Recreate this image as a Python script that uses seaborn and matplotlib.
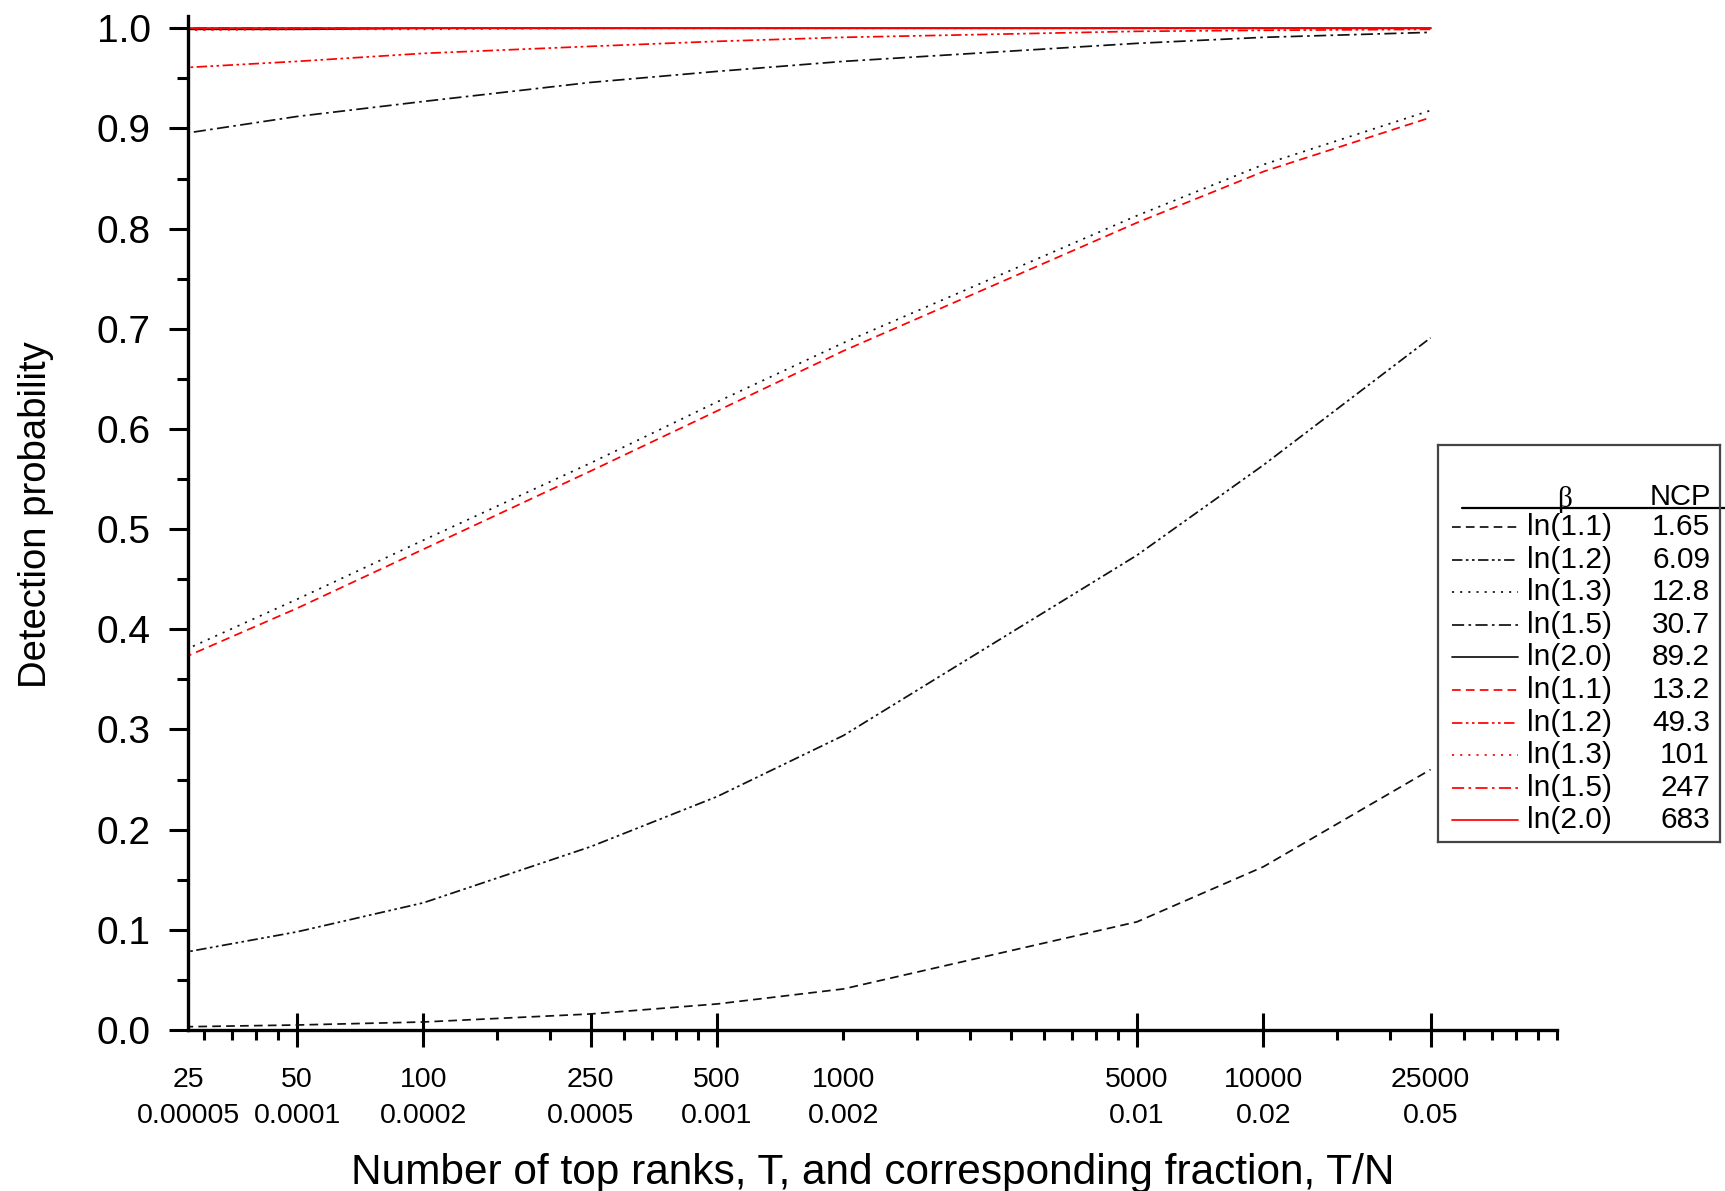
import matplotlib
matplotlib.use("Agg")
import matplotlib.pyplot as plt
import seaborn as sns
from matplotlib.ticker import FixedLocator, FixedFormatter, NullFormatter

# ---------------- data ----------------
T = [25, 50, 100, 250, 500, 1000, 5000, 10000, 25000]
T_tick_labels = ["25", "50", "100", "250", "500", "1000", "5000", "10000", "25000"]
frac_tick_labels = ["0.00005", "0.0001", "0.0002", "0.0005", "0.001", "0.002",
                    "0.01", "0.02", "0.05"]
minor_T = [30, 35, 40, 45, 150, 200, 300, 350, 400, 450,
           1000, 1500, 2000, 2500, 3000, 3500, 4000, 4500,
           15000, 20000, 30000, 35000, 40000, 45000, 50000]

beta_labels = ["ln(1.1)", "ln(1.2)", "ln(1.3)", "ln(1.5)", "ln(2.0)"]
ncp_black = ["1.65", "6.09", "12.8", "30.7", "89.2"]
ncp_red = ["13.2", "49.3", "101", "247", "683"]

black_11 = [0.003, 0.005, 0.008, 0.016, 0.026, 0.041, 0.108, 0.163, 0.260]
black_12 = [0.075, 0.098, 0.127, 0.183, 0.233, 0.294, 0.474, 0.564, 0.691]
black_13 = [0.373, 0.430, 0.489, 0.566, 0.627, 0.686, 0.813, 0.864, 0.918]
black_15 = [0.893, 0.912, 0.927, 0.946, 0.957, 0.967, 0.985, 0.991, 0.996]
black_20 = [0.999, 0.999, 1.000, 1.000, 1.000, 1.000, 1.000, 1.000, 1.000]

red_11 = [0.366, 0.421, 0.480, 0.558, 0.618, 0.678, 0.806, 0.857, 0.911]
red_12 = [0.960, 0.967, 0.975, 0.982, 0.987, 0.991, 0.997, 0.998, 0.999]
red_13 = [0.998, 0.999, 0.999, 1.000, 1.000, 1.000, 1.000, 1.000, 1.000]
red_15 = [1.000, 1.000, 1.000, 1.000, 1.000, 1.000, 1.000, 1.000, 1.000]
red_20 = [1.000, 1.000, 1.000, 1.000, 1.000, 1.000, 1.000, 1.000, 1.000]

# ---------------- style ----------------
sns.set_style("ticks")
plt.rcParams["font.family"] = ["Liberation Sans", "DejaVu Sans"]
plt.rcParams["text.color"] = "black"
plt.rcParams["axes.labelcolor"] = "black"
plt.rcParams["xtick.color"] = "black"
plt.rcParams["ytick.color"] = "black"
plt.rcParams["xtick.labelcolor"] = "black"
plt.rcParams["ytick.labelcolor"] = "black"

XLIM = (27.5, 50000)
YLIM = (0.0, 1.012)

styles = [
    (0, (5, 3)),                    # dashed
    (0, (6, 2, 1.5, 2, 1.5, 2)),    # dash-dot-dot
    (0, (1.2, 3.5)),                # dotted
    (0, (7, 2.5, 1.5, 2.5)),        # dash-dot
    "-",                            # solid
]
black_series = [black_11, black_12, black_13, black_15, black_20]
red_series = [red_11, red_12, red_13, red_15, red_20]
BLACK = "#111111"
RED = "#ff0000"
LW = 1.25

fig = plt.figure(figsize=(17.25, 11.91), dpi=100)
fig.patch.set_facecolor("white")
ax = fig.add_axes([188 / 1725, 161 / 1191, 1369 / 1725, 1013.7 / 1191])
ax.set_xscale("log")

for vals, ls in zip(black_series, styles):
    sns.lineplot(x=T, y=vals, ax=ax, color=BLACK, lw=LW, legend=False)
    ax.lines[-1].set_linestyle(ls)
for vals, ls in zip(red_series, styles):
    sns.lineplot(x=T, y=vals, ax=ax, color=RED, lw=LW, legend=False)
    ax.lines[-1].set_linestyle(ls)

ax.set_xlim(*XLIM)
ax.set_ylim(*YLIM)

# spines
for s in ["top", "right"]:
    ax.spines[s].set_visible(False)
for s in ["left", "bottom"]:
    ax.spines[s].set_linewidth(2.4)
    ax.spines[s].set_color("black")

# y ticks
yt = [i / 10 for i in range(11)]
ax.yaxis.set_major_locator(FixedLocator(yt))
ax.yaxis.set_major_formatter(FixedFormatter([f"{v:.1f}" for v in yt]))
ax.yaxis.set_minor_locator(FixedLocator([i / 20 for i in range(1, 20, 2)]))
ax.tick_params(axis="y", which="major", direction="out", length=14, width=2.2,
               labelsize=28, pad=13, color="black")
ax.tick_params(axis="y", which="minor", direction="out", length=8, width=2.2,
               color="black")

# x ticks
major_pos = [XLIM[0]] + T[1:]
ax.xaxis.remove_overlapping_locs = False
ax.xaxis.set_major_locator(FixedLocator(major_pos))
ax.xaxis.set_major_formatter(FixedFormatter(
    [f"{a}\n{b}" for a, b in zip(T_tick_labels, frac_tick_labels)]))
ax.xaxis.set_minor_locator(FixedLocator(minor_T))
ax.xaxis.set_minor_formatter(NullFormatter())
ax.tick_params(axis="x", which="major", direction="inout", length=25, width=2.2,
               labelsize=20.5, pad=14, color="black")
ax.tick_params(axis="x", which="minor", direction="out", length=7.5, width=2.2,
               color="black")
for lab in ax.get_xticklabels():
    lab.set_linespacing(1.5)
mt = ax.xaxis.get_major_ticks()
for i in (0, 5):  # axis start label and 1000 label carry no major tick mark
    mt[i].tick1line.set_visible(False)
    mt[i].tick2line.set_visible(False)

ax.set_xlabel("Number of top ranks, T, and corresponding fraction, T/N", fontsize=30.5)
ax.set_ylabel("Detection probability", fontsize=27.5)
ax.xaxis.set_label_coords(0.5, -0.121)
ax.yaxis.set_label_coords(-0.098, 0.508)

# ---------------- legend (table style) ----------------
LW_PX = 282
LH_PX = 397
lax = fig.add_axes([1438 / 1725, 1 - 842 / 1191, LW_PX / 1725, LH_PX / 1191])
lax.set_xlim(0, LW_PX)
lax.set_ylim(LH_PX, 0)
lax.set_xticks([])
lax.set_yticks([])
lax.set_facecolor("white")
for s in lax.spines.values():
    s.set_linewidth(1.6)
    s.set_color("#444444")

lax.text(127, 54, "β", ha="center", va="center", fontsize=21,
         family=["Liberation Serif", "DejaVu Serif"])
lax.text(242, 52, "NCP", ha="center", va="center", fontsize=21)
lax.plot([24, 287], [63, 63], color="black", lw=1.6, clip_on=False)

labels_all = beta_labels + beta_labels
ncp_all = ncp_black + ncp_red
colors_all = [BLACK] * 5 + [RED] * 5
styles_all = styles + styles
for i, (lab, ncp, c, ls) in enumerate(zip(labels_all, ncp_all, colors_all, styles_all)):
    yy = 82 + 32.6 * i
    lax.plot([14, 80], [yy, yy], color=c, lw=LW, linestyle=ls)
    lax.text(89, yy, lab, ha="left", va="center", fontsize=21.5)
    lax.text(272, yy, ncp, ha="right", va="center", fontsize=21.5)

fig.savefig("out.png", dpi=100, facecolor="white")
